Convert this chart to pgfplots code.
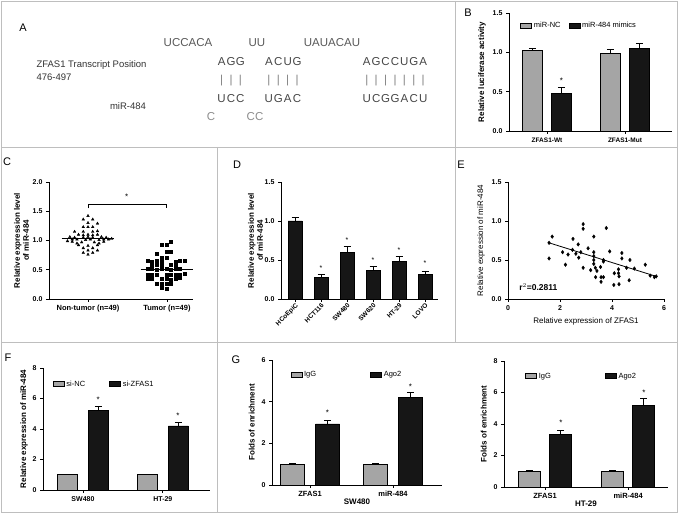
\documentclass[border=0pt]{standalone}
\usepackage{pgfplots}
\pgfplotsset{compat=1.18}
\usepackage{fontspec}
\setmainfont{Liberation Sans}
\definecolor{barg}{RGB}{165,165,165}
\definecolor{barb}{RGB}{22,22,22}
\definecolor{frame}{RGB}{190,190,190}
\definecolor{seq}{RGB}{70,70,70}
\newcommand\Lt[1]{\makebox[9.4pt]{#1}}
\pgfplotsset{
  prism/.style={
    scale only axis, anchor=south west, clip=false,
    axis lines=left, axis line style={line width=0.9pt,-},
    every tick/.style={line width=0.8pt,black},
    tick align=outside, major tick length=3pt,
    tick label style={font=\bfseries\fontsize{7}{8}\selectfont},
    label style={font=\bfseries\fontsize{8}{9}\selectfont},
    /pgf/number format/assume math mode=true,
    legend style={draw=none,fill=none,font=\fontsize{7.5}{8}\selectfont,legend columns=2},
  },
  sqleg/.style={legend image code/.code={\draw[##1,bar shift=0pt] (0pt,-2.5pt) rectangle (11pt,2.5pt);}},
  eb/.style={error bars/y dir=plus, error bars/y explicit,
      error bars/error bar style={line width=0.8pt,black},
      error bars/error mark options={rotate=90,mark size=3.5pt,line width=0.8pt,black}},
  dec1/.style={yticklabel style={/pgf/number format/.cd,fixed,fixed zerofill,precision=1}},
}
\begin{document}
\begin{tikzpicture}[x=1pt,y=1pt]
\useasboundingbox (0,0) rectangle (678,514);
% frames
\draw[frame,line width=0.9pt] (1,2) rectangle (677,513);
\draw[frame,line width=0.9pt] (1,367) -- (677,367);
\draw[frame,line width=0.9pt] (1,172) -- (677,172);
\draw[frame,line width=0.9pt] (455,513) -- (455,172);
\draw[frame,line width=0.9pt] (217,367) -- (217,2);

% ---------- Panel A ----------
\node[font=\fontsize{11}{12}\selectfont] at (23,486) {A};
\begin{scope}[every node/.style={font=\fontsize{11.5}{13}\selectfont,text=seq}]
\node[text=black!65] at (188,471) {UCCACA};
\node[text=black!65] at (257,471) {UU};
\node[text=black!65] at (332,471) {UAUACAU};
\node at (231,452) {\Lt{A}\Lt{G}\Lt{G}};
\node at (283,452) {\Lt{A}\Lt{C}\Lt{U}\Lt{G}};
\node at (395,452) {\Lt{A}\Lt{G}\Lt{C}\Lt{C}\Lt{U}\Lt{G}\Lt{A}};
\node[text=black!50] at (231,433) {\Lt{|}\Lt{|}\Lt{|}};
\node[text=black!50] at (283,433) {\Lt{|}\Lt{|}\Lt{|}\Lt{|}};
\node[text=black!50] at (395,433) {\Lt{|}\Lt{|}\Lt{|}\Lt{|}\Lt{|}\Lt{|}\Lt{|}};
\node at (231,415) {\Lt{U}\Lt{C}\Lt{C}};
\node at (283,415) {\Lt{U}\Lt{G}\Lt{A}\Lt{C}};
\node at (395,415) {\Lt{U}\Lt{C}\Lt{G}\Lt{G}\Lt{A}\Lt{C}\Lt{U}};
\node[text=black!45] at (211,397) {C};
\node[text=black!45] at (255,397) {CC};
\end{scope}
\node[anchor=west,font=\fontsize{9.5}{11}\selectfont,text=black!80] at (33,449) {ZFAS1 Transcript Position};
\node[anchor=west,font=\fontsize{9.5}{11}\selectfont,text=black!80] at (33,437) {476-497};
\node[font=\fontsize{9.5}{11}\selectfont,text=black!80] at (128,408) {miR-484};

% ---------- Panel B ----------
\node[font=\fontsize{11}{12}\selectfont] at (468,501) {B};
\begin{axis}[prism,dec1,at={(509pt,383pt)},width=163pt,height=118pt,
  xmin=0.513,xmax=2.603,ymin=0,ymax=1.5,ytick={0,0.5,1,1.5},
  xtick={1,2},xticklabels={ZFAS1-Wt,ZFAS1-Mut},
  xticklabel style={font=\bfseries\fontsize{6.5}{7}\selectfont},
  ylabel={Relative luciferase activity},
  ybar,sqleg,
  legend style={at={(0.05,0.96)},anchor=north west},
  /tikz/every even column/.append style={column sep=6pt}]
\addplot[eb,fill=barg,draw=black,line width=0.6pt,bar width=20pt,bar shift=-14.5pt]
 coordinates {(1,1.025) +- (0,0.03) (2,0.985) +- (0,0.05)};
\addlegendentry{miR-NC}
\addplot[eb,fill=barb,draw=black,line width=0.6pt,bar width=20pt,bar shift=14.5pt]
 coordinates {(1,0.475) +- (0,0.075) (2,1.055) +- (0,0.06)};
\addlegendentry{miR-484 mimics}
\node[font=\fontsize{8}{8}\selectfont] at (axis cs:1.186,0.64) {*};
\end{axis}

% ---------- Panel C ----------
\node[font=\fontsize{11}{12}\selectfont] at (7,352) {C};
\begin{axis}[prism,dec1,at={(49pt,215pt)},width=144pt,height=117pt,
  xmin=0.506,xmax=2.33,ymin=0,ymax=2.0,ytick={0,0.5,1,1.5,2},
  xtick={1,2},xticklabels={Non-tumor (n=49),Tumor (n=49)},
  xticklabel style={font=\bfseries\fontsize{7.5}{8}\selectfont},
  ylabel={Relative expression level\\of miR-484},ylabel style={align=center,yshift=-3pt}]
\addplot[only marks,mark=triangle*,mark size=1.5pt,black] coordinates {
(1.00,1.42)(0.94,1.36)(1.06,1.36)(1.00,1.30)(1.12,1.29)(0.94,1.23)(1.00,1.23)
(1.06,1.23)(0.83,1.15)(0.94,1.15)(1.06,1.15)(1.12,1.16)(0.88,1.10)(0.94,1.09)
(1.00,1.10)(1.06,1.09)(1.12,1.10)(0.77,1.06)(0.83,1.05)(0.94,1.05)(1.00,1.06)
(1.06,1.05)(1.17,1.06)(1.23,1.05)(0.80,1.02)(0.86,1.02)(0.97,1.01)(1.03,1.02)
(1.14,1.01)(1.20,1.02)(1.26,1.02)(0.74,0.99)(0.80,0.98)(0.92,0.97)(1.08,0.97)
(1.20,0.98)(0.88,0.92)(1.00,0.91)(1.12,0.92)(0.94,0.87)(1.06,0.87)(1.00,0.83)
(1.12,0.83)(0.94,0.79)(1.06,0.79)(1.00,0.76)(0.86,0.95)(1.14,0.95)(1.30,1.03)};
\addplot[only marks,mark=square*,mark size=1.5pt,black] coordinates {
(2.05,0.98)(1.93,0.92)(2.00,0.92)(2.00,0.81)(2.05,0.81)(1.87,0.78)(1.93,0.71)
(2.00,0.71)(1.755,0.65)(1.81,0.64)(1.87,0.65)(1.93,0.64)(2.11,0.64)(2.165,0.65)
(2.23,0.66)(1.81,0.58)(1.87,0.58)(1.93,0.58)(2.05,0.58)(2.11,0.58)(1.755,0.52)
(1.81,0.51)(1.87,0.50)(1.93,0.51)(2.00,0.52)(2.05,0.50)(2.11,0.51)(2.165,0.52)
(1.755,0.41)(1.81,0.42)(1.87,0.41)(2.00,0.41)(2.05,0.42)(2.11,0.41)(2.165,0.42)
(2.23,0.43)(1.755,0.34)(1.81,0.34)(1.93,0.35)(2.00,0.34)(2.05,0.33)(2.11,0.35)
(2.165,0.36)(1.87,0.27)(1.93,0.27)(2.00,0.26)(2.05,0.27)(1.93,0.20)(2.00,0.17)};
\addplot[black,line width=0.9pt] coordinates {(0.665,1.04)(1.335,1.04)};
\addplot[black,line width=0.9pt] coordinates {(1.665,0.51)(2.335,0.51)};
\addplot[black,line width=0.9pt] coordinates {(1,1.55)(1,1.61)(2,1.61)(2,1.55)};
\node[font=\fontsize{8}{8}\selectfont] at (axis cs:1.49,1.74) {*};
\end{axis}

% ---------- Panel D ----------
\node[font=\fontsize{11}{12}\selectfont] at (237,349) {D};
\begin{axis}[prism,dec1,at={(281pt,215pt)},width=157pt,height=117pt,
  xmin=0.46,xmax=6.5,ymin=0,ymax=1.5,ytick={0,0.5,1,1.5},
  xtick={1,...,6},xticklabels={HCoEpiC,HCT116,SW480,SW620,HT-29,LOVO},
  xticklabel style={rotate=45,anchor=north east,inner sep=0.5pt,font=\bfseries\fontsize{6.5}{7}\selectfont},
  ylabel={Relative expression level\\of miR-484},ylabel style={align=center,yshift=-5pt},ybar]
\addplot[eb,fill=barb,draw=black,line width=0.6pt,bar width=14pt,bar shift=0pt]
 coordinates {(1,1.0) +- (0,0.04) (2,0.28) +- (0,0.03) (3,0.60) +- (0,0.07)
 (4,0.37) +- (0,0.05) (5,0.48) +- (0,0.07) (6,0.32) +- (0,0.04)};
\node[font=\fontsize{7}{7}\selectfont] at (axis cs:2,0.39) {*};
\node[font=\fontsize{7}{7}\selectfont] at (axis cs:3,0.75) {*};
\node[font=\fontsize{7}{7}\selectfont] at (axis cs:4,0.50) {*};
\node[font=\fontsize{7}{7}\selectfont] at (axis cs:5,0.63) {*};
\node[font=\fontsize{7}{7}\selectfont] at (axis cs:6,0.46) {*};
\end{axis}

% ---------- Panel E ----------
\node[font=\fontsize{11}{12}\selectfont] at (461,349) {E};
\begin{axis}[prism,dec1,at={(508pt,215pt)},width=156pt,height=117pt,
  xmin=0,xmax=6,ymin=0,ymax=1.5,ytick={0,0.5,1,1.5},xtick={0,2,4,6},
  label style={font=\fontsize{8}{9}\selectfont},
  xlabel={Relative expression of ZFAS1},ylabel={Relative expression of miR-484}]
\addplot[only marks,mark=diamond*,mark size=1.8pt,black] coordinates {
(1.58,0.72)(1.70,0.80)(1.58,0.52)(2.10,0.60)(2.21,0.44)(2.31,0.57)(2.50,0.77)
(2.48,0.63)(2.61,0.58)(2.70,0.70)(2.72,0.53)(2.80,0.60)(2.89,0.96)(2.89,0.90)
(2.89,0.40)(3.08,0.65)(3.18,0.37)(3.30,0.80)(3.30,0.60)(3.30,0.50)(3.30,0.45)
(3.36,0.40)(3.42,0.36)(3.37,0.28)(3.56,0.41)(3.58,0.28)(3.58,0.22)(3.67,0.28)
(3.67,0.50)(3.67,0.48)(3.78,0.91)(3.91,0.61)(4.07,0.18)(4.09,0.33)(4.25,0.33)
(4.25,0.38)(4.27,0.29)(4.27,0.19)(4.38,0.59)(4.38,0.52)(4.56,0.40)(4.69,0.50)
(4.66,0.24)(4.86,0.39)(5.28,0.44)(5.47,0.30)(5.63,0.28)(5.70,0.29)(3.30,0.55)};
\addplot[black,line width=0.8pt] coordinates {(1.58,0.72)(5.70,0.29)};
\node[anchor=west,font=\bfseries\fontsize{8.5}{9}\selectfont] at (axis cs:0.3,0.15) {r$^{2}$=0.2811};
\end{axis}

% ---------- Panel F ----------
\node[font=\fontsize{11}{12}\selectfont] at (8,156) {F};
\begin{axis}[prism,at={(43pt,24pt)},width=167pt,height=122pt,
  xmin=0.5,xmax=2.59,ymin=0,ymax=8,ytick={0,2,4,6,8},
  xtick={1,2},xticklabels={SW480,HT-29},
  ylabel={Relative expression of miR-484},ylabel style={yshift=-2pt},ybar,sqleg,
  legend style={at={(0.04,0.93)},anchor=north west},
  /tikz/every even column/.append style={column sep=22pt}]
\addplot[eb,fill=barg,draw=black,line width=0.6pt,bar width=20pt,bar shift=-15.5pt]
 coordinates {(1,1.0) +- (0,0.03) (2,1.0) +- (0,0.03)};
\addlegendentry{si-NC}
\addplot[eb,fill=barb,draw=black,line width=0.6pt,bar width=20pt,bar shift=15.5pt]
 coordinates {(1,5.2) +- (0,0.3) (2,4.2) +- (0,0.22)};
\addlegendentry{si-ZFAS1}
\node[font=\fontsize{8}{8}\selectfont] at (axis cs:1.19,5.9) {*};
\node[font=\fontsize{8}{8}\selectfont] at (axis cs:2.19,4.9) {*};
\end{axis}

% ---------- Panel G (SW480) ----------
\node[font=\fontsize{11}{12}\selectfont] at (236,154) {G};
\begin{axis}[prism,at={(272pt,29pt)},width=170pt,height=125pt,
  xmin=0.542,xmax=2.59,ymin=0,ymax=6,ytick={0,2,4,6},
  xtick={1,2},xticklabels={ZFAS1,miR-484},
  xticklabel style={font=\bfseries\fontsize{7.5}{8}\selectfont},
  xlabel={SW480},xlabel style={yshift=5pt},
  ylabel={Folds of enrichment},ybar,sqleg,
  legend style={at={(0.09,0.94)},anchor=north west},
  /tikz/every even column/.append style={column sep=52pt}]
\addplot[eb,fill=barg,draw=black,line width=0.6pt,bar width=24pt,bar shift=-17.5pt]
 coordinates {(1,1.0) +- (0,0.03) (2,1.0) +- (0,0.03)};
\addlegendentry{IgG}
\addplot[eb,fill=barb,draw=black,line width=0.6pt,bar width=24pt,bar shift=17.5pt]
 coordinates {(1,2.93) +- (0,0.15) (2,4.2) +- (0,0.25)};
\addlegendentry{Ago2}
\node[font=\fontsize{8}{8}\selectfont] at (axis cs:1.21,3.46) {*};
\node[font=\fontsize{8}{8}\selectfont] at (axis cs:2.21,4.7) {*};
\end{axis}

% ---------- Panel G (HT-29) ----------
\begin{axis}[prism,at={(504pt,27pt)},width=164pt,height=126pt,
  xmin=0.506,xmax=2.48,ymin=0,ymax=8,ytick={0,2,4,6,8},
  xtick={1,2},xticklabels={ZFAS1,miR-484},
  xticklabel style={font=\bfseries\fontsize{7.5}{8}\selectfont},
  xlabel={HT-29},xlabel style={yshift=5pt},
  ylabel={Folds of enrichment},ybar,sqleg,
  legend style={at={(0.11,0.94)},anchor=north west},
  /tikz/every even column/.append style={column sep=52pt}]
\addplot[eb,fill=barg,draw=black,line width=0.6pt,bar width=22pt,bar shift=-15.5pt]
 coordinates {(1,1.0) +- (0,0.03) (2,1.0) +- (0,0.03)};
\addlegendentry{IgG}
\addplot[eb,fill=barb,draw=black,line width=0.6pt,bar width=22pt,bar shift=15.5pt]
 coordinates {(1,3.35) +- (0,0.22) (2,5.2) +- (0,0.43)};
\addlegendentry{Ago2}
\node[font=\fontsize{8}{8}\selectfont] at (axis cs:1.19,4.1) {*};
\node[font=\fontsize{8}{8}\selectfont] at (axis cs:2.19,6.0) {*};
\end{axis}
\end{tikzpicture}
\end{document}
